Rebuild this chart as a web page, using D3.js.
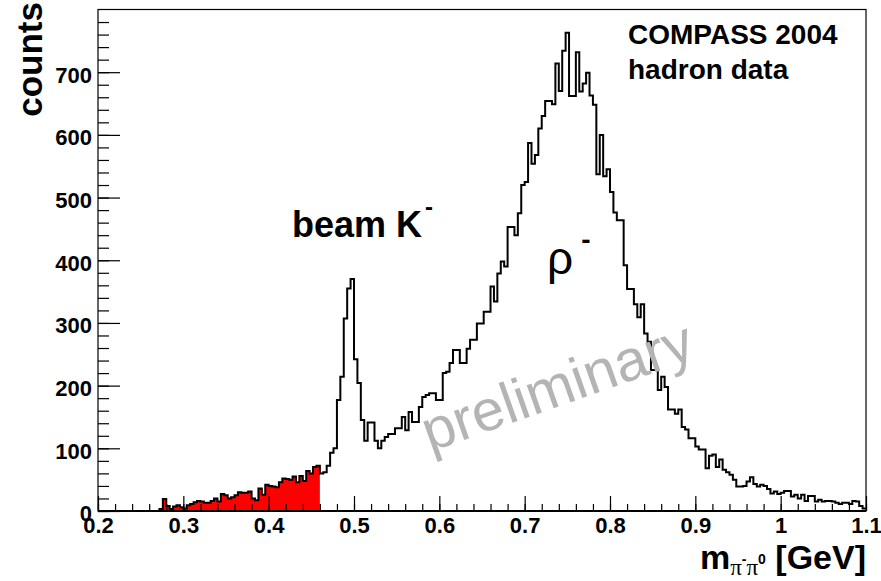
<!DOCTYPE html>
<html>
<head>
<meta charset="utf-8">
<script src="https://cdn.jsdelivr.net/npm/d3@7"></script>
<style>
  body { margin: 0; background: #fff; }
  svg { display: block; font-family: "Liberation Sans", Arial, Helvetica, sans-serif; }
  .tick text { font-weight: bold; font-size: 22px; fill: #000; }
  .tick line { stroke: #000; }
</style>
</head>
<body>
<svg id="chart" width="881" height="581"></svg>
<script>
// histogram: 225 bins of width 0.004 between 0.2 and 1.1
const xMin = 0.2;
const binWidth = 0.004;
const counts = [
  0, 0, 0, 0, 0, 0, 0, 0, 0, 0, 0, 0, 0, 0, 0, 0, 0, 0,
  3, 19, 8, 3, 7, 9, 6, 4, 9, 11, 14, 16, 15, 13, 13, 16, 20, 15,
  27, 25, 20, 22, 25, 30, 29, 29, 31, 20, 17, 36, 26, 42, 40, 39, 38, 46,
  52, 51, 50, 55, 46, 56, 48, 64, 60, 70, 72,
  60, 62, 72, 93, 100, 177, 214, 307, 355, 370, 242, 204, 145, 112, 141, 141,
  112, 100, 112, 118, 123, 123, 132, 132, 150, 129, 158, 142, 142, 166, 182, 185,
  188, 188, 177, 177, 220, 222, 236, 257, 257, 236, 236, 259, 273, 273, 299, 299,
  318, 318, 358, 334, 379, 398, 390, 453, 453, 440, 475, 520, 525, 587, 554, 568,
  610, 630, 654, 654, 649, 714, 670, 734, 763, 662, 662, 732, 669, 682, 699, 663,
  648, 537, 600, 534, 545, 509, 476, 464, 464, 392, 354, 354, 330, 309, 330, 283,
  270, 225, 225, 193, 214, 198, 162, 162, 155, 162, 134, 130, 116, 116, 103, 98,
  98, 68, 88, 90, 70, 82, 66, 62, 58, 50, 39, 39, 40, 47, 54, 43,
  39, 42, 40, 35, 28, 31, 27, 29, 32, 32, 23, 26, 20, 26, 16, 24,
  24, 15, 18, 15, 16, 16, 15, 13, 11, 13, 13, 11, 16, 15, 8, 4
];
// bins filled red (kaon side band)
const redFrom = 18, redTo = 64;
const xTicks = [0.2, 0.3, 0.4, 0.5, 0.6, 0.7, 0.8, 0.9, 1.0, 1.1];
const yTicks = [0, 100, 200, 300, 400, 500, 600, 700];

const svg = d3.select('#chart');
const padLeft = 98, padRight = 866, padTop = 9.5, padBottom = 511;

const x = d3.scaleLinear().domain([0.2, 1.1]).range([padLeft, padRight]);
const y = d3.scaleLinear().domain([0, 800]).range([padBottom, padTop]);

// edges with value, last edge repeats last value for step curve
const steps = counts.map((c, i) => [xMin + i * binWidth, c]);
steps.push([xMin + counts.length * binWidth, counts[counts.length - 1]]);

const redSteps = steps.slice(redFrom, redTo + 1).concat([[xMin + (redTo + 1) * binWidth, counts[redTo]]]);

svg.append('path')
  .datum(redSteps)
  .attr('fill', '#ff0000')
  .attr('d', d3.area()
    .curve(d3.curveStepAfter)
    .x(d => x(d[0]))
    .y0(y(0))
    .y1(d => y(d[1])));

// minor ticks
const xMinor = d3.range(0.2, 1.1001, 0.02);
const yMinor = d3.range(0, 781, 20);

svg.append('g')
  .attr('transform', `translate(0,${padBottom})`)
  .call(d3.axisBottom(x).tickValues(xMinor).tickSize(-7).tickFormat(''))
  .call(g => g.select('.domain').remove());
svg.append('g')
  .attr('transform', `translate(${padLeft},0)`)
  .call(d3.axisLeft(y).tickValues(yMinor).tickSize(-11).tickFormat(''))
  .call(g => g.select('.domain').remove());

svg.append('g')
  .attr('transform', `translate(0,${padBottom})`)
  .call(d3.axisBottom(x).tickValues(xTicks).tickSize(-15).tickPadding(6)
    .tickFormat(d => d3.format('')(+d.toFixed(1))))
  .call(g => g.select('.domain').remove());
svg.append('g')
  .attr('transform', `translate(${padLeft},0)`)
  .call(d3.axisLeft(y).tickValues(yTicks).tickSize(-22).tickPadding(6))
  .call(g => g.select('.domain').remove())
  .call(g => g.selectAll('.tick text').attr('dy', '0.45em'));

svg.selectAll('.tick line').attr('stroke-width', 1.2);

// histogram outline
svg.append('path')
  .datum(steps)
  .attr('fill', 'none')
  .attr('stroke', '#000')
  .attr('stroke-width', 2)
  .attr('d', d3.line()
    .curve(d3.curveStepAfter)
    .x(d => x(d[0]))
    .y(d => y(d[1])));

// frame
svg.append('rect')
  .attr('x', padLeft).attr('y', padTop)
  .attr('width', padRight - padLeft).attr('height', padBottom - padTop)
  .attr('fill', 'none').attr('stroke', '#000').attr('stroke-width', 1.2);
svg.append('line')
  .attr('x1', padLeft).attr('x2', padRight).attr('y1', padBottom).attr('y2', padBottom)
  .attr('stroke', '#000').attr('stroke-width', 2);

// watermark
svg.append('text')
  .attr('transform', 'translate(430,452) rotate(-19.5)')
  .attr('fill', '#b4b4b4')
  .attr('font-size', 58)
  .text('preliminary');

// annotations
svg.append('text')
  .attr('x', 628).attr('y', 44)
  .attr('font-weight', 'bold').attr('font-size', 28)
  .text('COMPASS 2004');
svg.append('text')
  .attr('x', 628).attr('y', 79)
  .attr('font-weight', 'bold').attr('font-size', 28)
  .text('hadron data');

const beam = svg.append('text')
  .attr('x', 292).attr('y', 237)
  .attr('font-weight', 'bold').attr('font-size', 36);
beam.append('tspan').text('beam K');
beam.append('tspan').attr('font-size', 24).attr('dx', 3).attr('dy', -22).text('-');

const rho = svg.append('text')
  .attr('x', 547).attr('y', 274)
  .attr('font-size', 46);
rho.append('tspan').text('ρ');
rho.append('tspan').attr('font-size', 28).attr('dx', 8).attr('dy', -25).attr('font-weight', 'bold').text('-');

// axis titles
const xt = svg.append('text')
  .attr('x', padRight).attr('y', 569)
  .attr('text-anchor', 'end')
  .attr('font-weight', 'bold').attr('font-size', 34);
xt.append('tspan').text('m');
xt.append('tspan').attr('font-family', '"Liberation Serif", serif').attr('font-weight', 'normal').attr('font-size', 23).attr('dy', 6).text('π');
xt.append('tspan').attr('font-size', 14).attr('dy', -11).text('-');
xt.append('tspan').attr('font-family', '"Liberation Serif", serif').attr('font-weight', 'normal').attr('font-size', 23).attr('dy', 11).text('π');
xt.append('tspan').attr('font-size', 14).attr('dy', -11).text('0');
xt.append('tspan').attr('font-size', 34).attr('dy', 5).text(' [GeV]');

svg.append('text')
  .attr('transform', 'translate(42,2) rotate(-90)')
  .attr('text-anchor', 'end')
  .attr('font-weight', 'bold').attr('font-size', 35)
  .text('counts');
</script>
</body>
</html>
